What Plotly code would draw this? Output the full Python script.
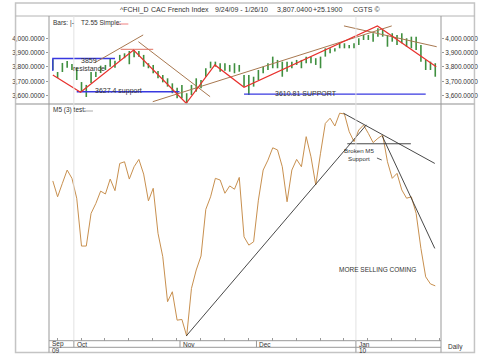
import plotly.graph_objects as go

# ---------------- data ----------------
# daily price bars (high / low), CAC 40, 9/24/09 - 1/26/10
bar_high = [3854, 3765, 3828, 3842, 3821, 3795, 3695, 3675, 3765, 3767,
            3809, 3814, 3863, 3844, 3884, 3895, 3911, 3918, 3911, 3884,
            3826, 3814, 3772, 3744, 3721, 3686, 3656, 3675, 3617, 3675,
            3721, 3709, 3791, 3837, 3837, 3826, 3826, 3814, 3826, 3814,
            3744, 3744, 3732, 3779, 3802, 3826, 3872, 3849, 3837, 3837,
            3837, 3849, 3849, 3872, 3872, 3861, 3872, 3930, 3930, 3930,
            3965, 3965, 3953, 3965, 4000, 4023, 4023, 4035, 4070, 4058,
            4023, 4035, 4023, 4035, 4000, 4011, 4011, 3953, 3849, 3837,
            3826]
bar_low = [3779, 3723, 3765, 3795, 3779, 3709, 3626, 3591, 3688, 3730,
           3758, 3779, 3802, 3795, 3844, 3861, 3819, 3868, 3872, 3802,
           3791, 3756, 3721, 3693, 3663, 3617, 3582, 3582, 3547, 3605,
           3628, 3652, 3732, 3791, 3802, 3767, 3774, 3767, 3756, 3767,
           3663, 3605, 3663, 3709, 3756, 3779, 3791, 3791, 3732, 3767,
           3791, 3814, 3791, 3826, 3826, 3814, 3791, 3872, 3895, 3907,
           3930, 3930, 3930, 3930, 3953, 3988, 3988, 3976, 4011, 4011,
           3941, 3976, 3953, 3965, 3941, 3930, 3918, 3837, 3779, 3779,
           3732]
# M5 (3) oscillator
m5 = [67.5, 60.8, 66.5, 72.1, 68.6, 60.2, 40.0, 40.0, 53.8, 58.0,
      63.2, 62.0, 68.3, 63.4, 74.9, 75.6, 68.3, 73.5, 76.6, 70.4,
      59.1, 64.4, 45.4, 35.5, 16.5, 20.7, 8.7, 9.0, 2.0, 22.1,
      29.9, 35.8, 55.5, 60.8, 68.6, 67.9, 62.3, 65.4, 64.0, 69.0,
      43.9, 40.4, 41.8, 59.4, 72.1, 76.3, 81.5, 80.6, 73.5, 58.7,
      72.1, 76.6, 73.5, 86.2, 77.7, 65.8, 79.2, 91.8, 94.0, 90.7,
      96.1, 95.8, 88.3, 84.1, 89.0, 91.1, 87.6, 83.7, 85.5, 86.9,
      75.6, 68.6, 70.7, 63.7, 60.2, 60.8, 53.8, 39.0, 27.0, 24.0,
      23.2]
days = list(range(len(bar_high)))

price_ticks = [3600, 3700, 3800, 3900, 4000]
price_tick_labels = ["3,600.0000", "3,700.0000", "3,800.0000", "3,900.0000", "4,000.0000"]
month_labels = ["Sep", "Oct", "Nov", "Dec", "Jan"]
month_pos = [-0.8, 4.4, 26.6, 42.6, 63.4]
year_labels = ["09", "10"]
year_pos = [-0.8, 63.4]
week_ticks = [0.9 + 5 * k for k in range(17)]

# analyst drawings (day index, value)
red_zigzag_x = [0, 5.8, 16.9, 27.9, 33.9, 40, 67.9, 80.2]
red_zigzag_y = [3744, 3624, 3918, 3547, 3814, 3659, 4086, 3802]
brown_lines = [((8.8, 3830), (18.9, 4023)),
               ((17.9, 3976), (32.9, 3593)),
               ((20.9, 3558), (70.9, 4086)),
               ((60.9, 4086), (80.3, 3941))]
peak_mark = ((14.2, 3923), (21.0, 3923))
resistance = 3859
support1 = 3627.4
support2 = 3610.81
m5_lines = [((27.9, 2.0), (65.6, 91.2)),
            ((60.8, 96.1), (79.9, 74.9)),
            ((61.6, 83.2), (74.9, 83.2)),
            ((68.9, 86.5), (79.9, 39.0))]

# ---------------- layout helpers ----------------
W, H = 490, 356
L, R, T, B = 38, 448, 16, 341
def px(X):
    return (X - L) / (R - L)
def py(Y):
    return (B - Y) / (B - T)

SPLIT = py(104)
GREEN = "#3f8f3f"
RED = "#e8302c"
BROWN = "#a87850"
TAN = "#c8904f"
BLUE = "#3838e0"
GRAYLINE = "#b4b4b4"
TXT = "#333333"
FONT = "Liberation Sans, Arial, sans-serif"

fig = go.Figure()

# price bars
bx, by = [], []
for d, h, l in zip(days, bar_high, bar_low):
    bx += [d, d, None]
    by += [l, h, None]
fig.add_trace(go.Scatter(x=bx, y=by, mode="lines", line=dict(color=GREEN, width=1.6),
                         xaxis="x", yaxis="y", hoverinfo="skip"))

# blue resistance / support
fig.add_trace(go.Scatter(x=[0, 0, 13], y=[3772, resistance, resistance], mode="lines",
                         line=dict(color=BLUE, width=1.3), xaxis="x", yaxis="y"))
fig.add_trace(go.Scatter(x=[5, 26.5], y=[support1, support1], mode="lines",
                         line=dict(color=BLUE, width=1.3), xaxis="x", yaxis="y"))
fig.add_trace(go.Scatter(x=[40, 78], y=[support2, support2], mode="lines",
                         line=dict(color=BLUE, width=1.3), xaxis="x", yaxis="y"))

# brown trend lines
for (x0, y0), (x1, y1) in brown_lines:
    fig.add_trace(go.Scatter(x=[x0, x1], y=[y0, y1], mode="lines",
                             line=dict(color=BROWN, width=1), xaxis="x", yaxis="y"))
fig.add_trace(go.Scatter(x=[peak_mark[0][0], peak_mark[1][0]], y=[peak_mark[0][1], peak_mark[1][1]],
                         mode="lines", line=dict(color="#e07060", width=1), xaxis="x", yaxis="y"))

# red zigzag
fig.add_trace(go.Scatter(x=red_zigzag_x, y=red_zigzag_y, mode="lines",
                         line=dict(color=RED, width=1.2), xaxis="x", yaxis="y"))

# invisible trace on right axis (for right labels)
fig.add_trace(go.Scatter(x=[None], y=[None], xaxis="x", yaxis="y3"))

# M5 line
fig.add_trace(go.Scatter(x=days, y=m5, mode="lines", line=dict(color=TAN, width=1),
                         xaxis="x2", yaxis="y2"))
for (x0, y0), (x1, y1) in m5_lines:
    fig.add_trace(go.Scatter(x=[x0, x1], y=[y0, y1], mode="lines",
                             line=dict(color="#333333", width=0.9), xaxis="x2", yaxis="y2"))

xr = [-0.8, 81.2]
fig.update_layout(
    width=W, height=H, showlegend=False,
    margin=dict(l=L, r=W - R, t=T, b=H - B, pad=0),
    paper_bgcolor="white", plot_bgcolor="white",
    font=dict(family=FONT, size=7, color=TXT),
    xaxis=dict(domain=[0, 1], range=xr, anchor="y", showticklabels=False, ticks="",
               showgrid=False, zeroline=False, showline=False),
    xaxis2=dict(domain=[0, 1], range=xr, anchor="y2", tickvals=week_ticks, ticks="inside",
                ticklen=3, tickcolor="#999999", showticklabels=False, showgrid=False,
                zeroline=False, showline=False),
    yaxis=dict(domain=[SPLIT, 1], range=[3542, 4155], tickvals=price_ticks,
               ticktext=price_tick_labels, ticks="outside", ticklen=2, tickcolor="#999999",
               tickfont=dict(size=6.5, color=TXT), showgrid=False, zeroline=False,
               showline=False, anchor="x"),
    yaxis3=dict(domain=[SPLIT, 1], range=[3542, 4155], tickvals=price_ticks,
                ticktext=price_tick_labels, ticks="outside", ticklen=2, tickcolor="#999999",
                tickfont=dict(size=6.5, color=TXT), side="right", overlaying="y",
                showgrid=False, zeroline=False, showline=False, anchor="x"),
    yaxis2=dict(domain=[0, SPLIT], range=[-0.1, 100], showticklabels=False, ticks="",
                showgrid=False, zeroline=False, showline=False, anchor="x2"),
)

shapes = []
def hline(Y, X0, X1, color=GRAYLINE, w=1):
    shapes.append(dict(type="line", xref="paper", yref="paper", x0=px(X0), x1=px(X1),
                       y0=py(Y), y1=py(Y), line=dict(color=color, width=w)))
def vline(X, Y0, Y1, color=GRAYLINE, w=1):
    shapes.append(dict(type="line", xref="paper", yref="paper", x0=px(X), x1=px(X),
                       y0=py(Y0), y1=py(Y1), line=dict(color=color, width=w)))

# outer frame
shapes.append(dict(type="rect", xref="paper", yref="paper", x0=px(3), x1=px(483),
                   y0=py(352.5), y1=py(3), line=dict(color="#c4c4c4", width=1.5)))
hline(16, 3, 483)
hline(104, 3, 483, w=1.5)
hline(340.7, 38, 448, color="#999999")
hline(347.3, 38, 448, color="#999999")
vline(38, 16, 352.5, color="#999999")
vline(448, 16, 352.5, color="#999999")
# faint quarterly grid lines
for pos in [month_pos[1], month_pos[4]]:
    shapes.append(dict(type="line", xref="x", yref="paper", x0=pos, x1=pos, y0=py(340.7), y1=py(16),
                       line=dict(color="#e2e2e2", width=1)))
# month separators
for pos in month_pos[1:]:
    shapes.append(dict(type="line", xref="x", yref="paper", x0=pos, x1=pos, y0=py(347.3), y1=py(340.7),
                       line=dict(color="#999999", width=1)))
shapes.append(dict(type="line", xref="x", yref="paper", x0=year_pos[1], x1=year_pos[1],
                   y0=py(352.5), y1=py(347.3), line=dict(color="#999999", width=1)))
# legend swatches
hline(24, 109, 121, color="#f08080")
hline(111, 74, 84, color="#aaaaaa")
# arrow near Broken M5 Support text
shapes.append(dict(type="line", xref="paper", yref="paper", x0=px(381), x1=px(386),
                   y0=py(158), y1=py(160), line=dict(color="#333333", width=0.8)))
fig.update_layout(shapes=shapes)

ann = []
def text(X, Y, s, size=7, anchor="left", color=TXT):
    ann.append(dict(xref="paper", yref="paper", x=px(X), y=py(Y), text=s, showarrow=False,
                    xanchor=anchor, yanchor="middle", font=dict(size=size, color=color, family=FONT)))

# title row
text(110, 10, "^FCHI_D")
text(143, 10, "CAC French Index")
text(210, 10, "9/24/09 - 1/26/10")
text(274, 10, "3,807.0400")
text(312, 10, "+25.1900")
text(354, 10, "CGTS ©")
# legends
text(40, 23, "Bars: |-", size=6.5)
text(69, 23, "T2.55 Simple:", size=6.5)
text(40, 110, "M5 (3) test:", size=6.5)
# top panel notes
text(69, 61, "3859", size=7)
text(61, 68, "resistance", size=7)
text(84, 90.5, "3627.4 support", size=7)
text(272, 93, "3610.81 SUPPORT", size=7)
# bottom panel notes
text(362, 150.5, "Broken M5", size=6.2, anchor="center")
text(362, 158.5, "Support", size=6.2, anchor="center")
text(382, 269.5, "MORE SELLING COMING", size=6.5, anchor="center")
# month / year labels
for lab, pos in zip(month_labels, month_pos):
    ann.append(dict(xref="x", yref="paper", x=pos, y=py(344), text=lab, showarrow=False,
                    xanchor="left", xshift=1, yanchor="middle", font=dict(size=6.5, color=TXT, family=FONT)))
for lab, pos in zip(year_labels, year_pos):
    ann.append(dict(xref="x", yref="paper", x=pos, y=py(350.5), text=lab, showarrow=False,
                    xanchor="left", xshift=1, yanchor="middle", font=dict(size=6.5, color=TXT, family=FONT)))
text(463, 347, "Daily", size=6.5, anchor="center")
fig.update_layout(annotations=ann)

fig.write_html("out.html", config={"displayModeBar": False},
               post_script="document.body.style.margin='0';document.body.style.overflow='hidden';")
